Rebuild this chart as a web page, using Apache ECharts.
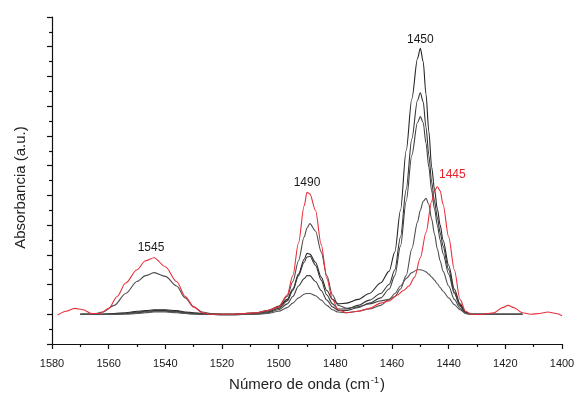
<!DOCTYPE html>
<html>
<head>
<meta charset="utf-8">
<title>Espectro IR</title>
<script src="https://cdn.jsdelivr.net/npm/echarts@6/dist/echarts.min.js"></script>
<style>
  html, body { margin: 0; padding: 0; background: #ffffff; }
  #chart { width: 576px; height: 399px; }
</style>
</head>
<body>
<div id="chart"></div>
<script>
// Wavenumber grids (cm-1)
const wnBlack = [1570,1566,1562,1558,1554,1550,1547,1544,1540,1536,1533,1530,1527,1524,1520,1516,1512,1508,1504,1500,1497,1495,1493,1491,1490,1489,1487,1485,1483,1481,1479,1476,1472,1468,1464,1461,1459,1457,1455,1453,1451,1450,1449,1448,1447,1446,1445,1444,1443,1442,1440,1438,1436,1434,1432,1428,1424,1420,1414];
const wnRed = [1578,1575,1572,1569,1566,1563,1560,1557,1554,1550,1547,1544,1540,1536,1533,1530,1527,1524,1520,1516,1512,1508,1504,1500,1497,1495,1493,1491,1490,1489,1487,1485,1483,1481,1479,1476,1472,1468,1464,1461,1458,1456,1454,1452,1450,1448,1446,1445,1444,1443,1442,1440,1438,1436,1434,1432,1428,1424,1421,1419,1417,1414,1411,1408,1405,1402,1400];

// Absorbance spectra (a.u.)
const absA = [2.0,2.0,2.0,2.05,2.1,2.2,2.25,2.3,2.3,2.25,2.15,2.1,2.05,2.0,2.0,2.0,2.05,2.1,2.25,2.5,3.0,3.7,4.7,5.7,6.1,6.05,5.5,4.5,3.6,3.0,2.7,2.75,3.0,3.4,4.1,4.9,6.2,9.0,13.0,16.5,19.2,19.9,19.0,16.8,14.3,11.9,10.4,9.1,8.0,7.0,5.3,3.7,2.7,2.15,2.0,2.0,2.0,2.0,2.0];
const absB = [2.0,2.0,2.0,2.0,2.05,2.15,2.2,2.25,2.25,2.2,2.1,2.05,2.0,2.0,2.0,2.0,2.0,2.05,2.15,2.4,2.9,3.6,4.6,5.5,5.85,5.9,5.3,4.3,3.3,2.7,2.35,2.35,2.6,2.95,3.4,4.0,5.0,7.2,10.4,13.8,16.4,16.9,16.3,14.6,12.7,10.9,9.6,8.5,7.5,6.6,5.0,3.5,2.6,2.1,2.0,2.0,2.0,2.0,2.0];
const absC = [2.0,2.0,2.0,2.0,2.05,2.1,2.15,2.2,2.2,2.15,2.1,2.05,2.0,2.0,1.95,1.95,2.0,2.0,2.1,2.3,2.7,3.2,3.9,4.4,4.6,4.6,4.2,3.6,2.95,2.5,2.25,2.25,2.45,2.75,3.1,3.7,4.6,6.6,9.6,12.7,14.9,15.3,14.9,13.5,11.9,10.3,9.1,8.0,7.0,6.1,4.7,3.4,2.55,2.1,2.0,2.0,2.0,2.0,2.0];
const absD = [2.0,2.0,2.15,2.6,3.4,4.2,4.6,4.8,4.55,3.9,3.1,2.5,2.15,2.05,2.0,2.0,2.0,2.05,2.2,2.55,3.2,4.2,5.6,7.2,7.8,8.1,7.6,6.2,4.6,3.3,2.6,2.4,2.5,2.7,2.9,3.0,3.2,3.7,4.6,6.4,8.2,9.0,9.6,9.8,9.4,8.4,7.4,6.4,5.6,4.9,3.9,3.0,2.4,2.05,2.0,2.0,2.0,2.0,2.0];
const absE = [2.0,2.0,2.0,2.0,2.0,2.05,2.1,2.15,2.15,2.1,2.05,2.0,2.0,2.0,2.0,2.0,2.0,2.0,2.05,2.2,2.45,2.75,3.1,3.35,3.4,3.4,3.25,2.95,2.6,2.3,2.15,2.1,2.2,2.35,2.6,3.0,3.4,3.9,4.4,4.8,5.0,5.0,4.95,4.85,4.7,4.5,4.3,4.05,3.8,3.55,3.1,2.65,2.3,2.05,2.0,2.0,2.0,2.0,2.0];
const absRed = [1.95,2.2,2.4,2.3,2.05,2.05,2.4,3.2,4.1,5.0,5.6,5.8,5.2,4.2,3.2,2.5,2.1,2.0,2.0,2.0,2.05,2.1,2.25,2.5,3.3,4.6,6.8,9.3,10.2,10.1,9.0,6.7,4.4,3.0,2.3,2.1,2.2,2.4,2.75,2.9,3.3,3.6,3.9,4.5,5.8,7.5,9.6,10.3,10.6,10.3,9.4,7.2,5.0,3.0,2.2,2.0,2.0,2.1,2.45,2.6,2.45,2.1,2.0,2.05,2.15,2.05,1.9];

// Axis ticks
const xTicks = { min: 1400, max: 1580, step: 20 };
const yTicks = { min: 0, max: 22, step: 2 };

// Peak annotations: [label, wavenumber, absorbance of the labelled peak]
const peakLabels = [
  ['1545', 1544, 5.8],
  ['1490', 1490, 10.2],
  ['1445', 1444, 10.6],
  ['1450', 1450, 19.9]
];

const FONT = 'Liberation Sans, Arial, sans-serif';
const pairs = (xs, ys) => xs.map((x, i) => [x, ys[i]]);

const markFor = (entries) => ({
  symbol: 'circle', symbolSize: 1,
  itemStyle: { color: 'rgba(0,0,0,0)' },
  label: { show: true, position: 'inside', fontFamily: FONT, fontSize: 12, color: '#1a1a1a' },
  data: entries.map(e => ({
    coord: [e.peak[1], e.peak[2]],
    label: { formatter: e.peak[0], offset: e.offset, color: e.color || '#1a1a1a' }
  }))
});

const blackSeries = [
  { name: 'A', data: absA, color: '#262626', marks: [{ peak: peakLabels[3], offset: [0, -9] }] },
  { name: 'B', data: absB, color: '#363636' },
  { name: 'C', data: absC, color: '#404040' },
  { name: 'D', data: absD, color: '#4c4c4c' },
  { name: 'E', data: absE, color: '#575757' }
];

const series = blackSeries.map(s => {
  const o = {
    name: s.name, type: 'line', data: pairs(wnBlack, s.data),
    showSymbol: false, smooth: 0.3, smoothMonotone: 'x',
    lineStyle: { color: s.color, width: 1.1 }, z: 2
  };
  if (s.marks) o.markPoint = markFor(s.marks);
  return o;
});

series.push({
  name: 'Rojo', type: 'line', data: pairs(wnRed, absRed),
  showSymbol: false, smooth: 0.3, smoothMonotone: 'x',
  lineStyle: { color: '#e8303a', width: 1.1 }, z: 3,
  markPoint: markFor([
    { peak: peakLabels[0], offset: [-3, -10] },
    { peak: peakLabels[1], offset: [0, -10] },
    { peak: peakLabels[2], offset: [15, -12], color: '#e8222a' }
  ])
});

const axisStroke = { color: '#111', width: 1.2 };

const chart = echarts.init(document.getElementById('chart'), null, { renderer: 'canvas' });
chart.setOption({
  animation: false,
  backgroundColor: '#ffffff',
  grid: { left: 52, right: 14, top: 17, bottom: 55, outerBoundsMode: 'none' },
  xAxis: {
    type: 'value', inverse: true,
    min: xTicks.min, max: xTicks.max, interval: xTicks.step,
    name: 'Número de onda (cm{sup|-1})',
    nameLocation: 'middle', nameGap: 32,
    nameTextStyle: {
      fontFamily: FONT, fontSize: 15, color: '#222',
      rich: { sup: { fontSize: 9, verticalAlign: 'top', padding: [0, 1, 9, 1], color: '#222', fontFamily: FONT } }
    },
    axisLine: { show: true, onZero: false, lineStyle: axisStroke },
    axisTick: { show: true, inside: false, length: 5, lineStyle: axisStroke },
    minorTick: { show: true, splitNumber: 2, length: 3, lineStyle: axisStroke },
    axisLabel: { fontFamily: FONT, fontSize: 11, color: '#1a1a1a', margin: 14, formatter: v => String(v) },
    splitLine: { show: false }
  },
  yAxis: {
    type: 'value',
    min: yTicks.min, max: yTicks.max, interval: yTicks.step,
    name: 'Absorbancia (a.u.)',
    nameLocation: 'middle', nameGap: 24,
    nameTextStyle: { fontFamily: FONT, fontSize: 15, color: '#222', padding: [0, 14, 0, 0] },
    axisLine: { show: true, onZero: false, lineStyle: axisStroke },
    axisTick: { show: true, inside: false, length: 5, lineStyle: axisStroke },
    minorTick: { show: true, splitNumber: 2, length: 3, lineStyle: axisStroke },
    axisLabel: { show: false },
    splitLine: { show: false }
  },
  series: series
});
</script>
</body>
</html>
